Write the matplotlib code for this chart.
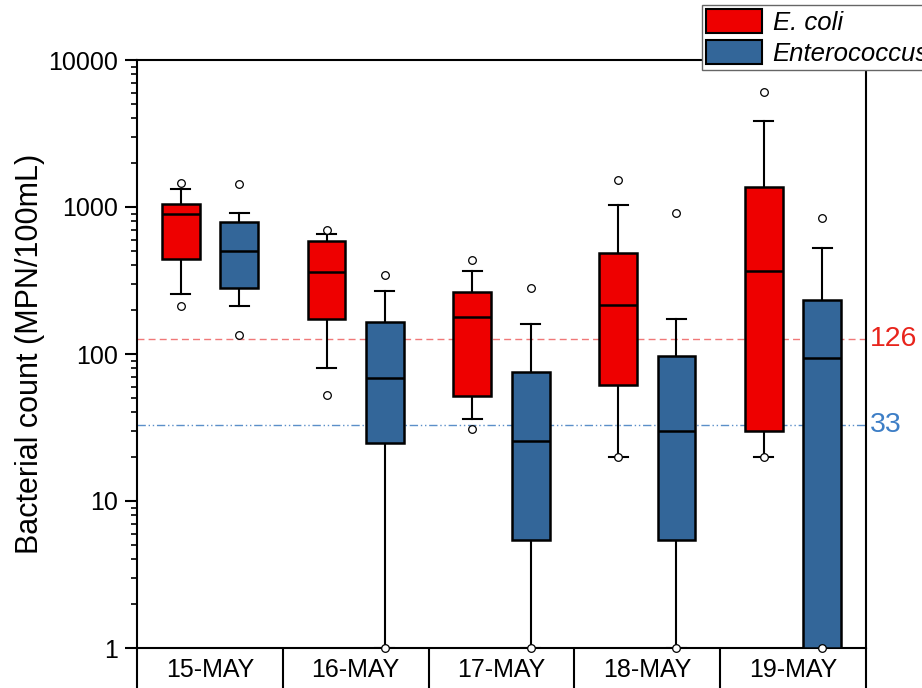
import numpy as np
import matplotlib
matplotlib.use('Agg')
import matplotlib.pyplot as plt
from matplotlib.patches import Patch
from matplotlib.ticker import FixedLocator, LogLocator, NullFormatter, FuncFormatter
import matplotlib.transforms as mtransforms

plt.rcParams['font.family'] = ['Liberation Sans', 'DejaVu Sans']

dates = ['15-MAY', '16-MAY', '17-MAY', '18-MAY', '19-MAY']

# E. coli box stats (MPN/100mL)
ecoli_lo = [256, 80, 36, 20, 20]
ecoli_q1 = [445, 174, 52, 62, 30]
ecoli_med = [900, 360, 179, 215, 369]
ecoli_q3 = [1054, 590, 263, 484, 1368]
ecoli_hi = [1334, 655, 369, 1032, 3830]
ecoli_fliers = [[211, 1449], [53, 698], [31, 438], [20, 1527], [20, 6090]]

# Enterococcus box stats
ent_lo = [211, 1, 1, 1, 1]
ent_q1 = [281, 25, 5.4, 5.4, 1]
ent_med = [502, 69, 25.6, 30, 94]
ent_q3 = [790, 165, 75.5, 97, 234]
ent_hi = [910, 270, 159, 172, 524]
ent_fliers = [[135, 1433], [1, 343], [1, 280], [1, 910], [1, 838]]

ecoli_limit = 126
ent_limit = 33

red = '#ee0000'
blue = '#336699'


def make_stats(lo, q1, med, q3, hi, fl):
    out = []
    for i in range(len(lo)):
        out.append(dict(whislo=lo[i], q1=q1[i], med=med[i], q3=q3[i],
                        whishi=hi[i], fliers=fl[i]))
    return out


fig = plt.figure(figsize=(9.22, 6.88), dpi=100)
ax = fig.add_axes([137/922, 1-648/688, (866-137)/922, (648-60)/688])

x = np.arange(len(dates))
off = 0.2
w = 0.26

ax.axhline(ecoli_limit, color='#f07878', lw=1, ls=(0, (5, 3)), zorder=1)
ax.axhline(ent_limit, color='#5b8fc9', lw=1, ls=(0, (6, 2, 1, 2, 1, 2)), zorder=1)

for stats, pos, col in [(make_stats(ecoli_lo, ecoli_q1, ecoli_med, ecoli_q3, ecoli_hi, ecoli_fliers), x - off, red),
                        (make_stats(ent_lo, ent_q1, ent_med, ent_q3, ent_hi, ent_fliers), x + off, blue)]:
    bp = ax.bxp(stats, positions=pos, widths=w, patch_artist=True, manage_ticks=False,
                boxprops=dict(facecolor=col, edgecolor='black', linewidth=1.8),
                medianprops=dict(color='black', linewidth=1.8),
                whiskerprops=dict(color='black', linewidth=1.5),
                capprops=dict(color='black', linewidth=1.5),
                flierprops=dict(marker='o', markersize=5.5, markerfacecolor='white',
                                markeredgecolor='black', markeredgewidth=0.9))
    for f in bp['fliers']:
        f.set_clip_on(False)
        f.set_zorder(5)
    for b in bp['boxes']:
        b.set_zorder(3)
    for m in bp['medians']:
        m.set_zorder(4)

ax.set_yscale('log')
ax.set_ylim(1, 10000)
ax.set_xlim(-0.5, len(dates) - 0.5)

ax.yaxis.set_major_locator(FixedLocator([1, 10, 100, 1000, 10000]))
ax.yaxis.set_major_formatter(FuncFormatter(lambda v, p: '%d' % v))
ax.yaxis.set_minor_locator(LogLocator(base=10, subs=np.arange(2, 10)))
ax.yaxis.set_minor_formatter(NullFormatter())
ax.tick_params(axis='y', which='major', direction='out', length=8.6, width=1.5,
               labelsize=18, pad=5)
ax.tick_params(axis='y', which='minor', direction='out', length=4.5, width=1.2)

ax.xaxis.set_major_locator(FixedLocator(np.arange(-0.5, len(dates), 1.0)))
ax.xaxis.set_major_formatter(NullFormatter())
ax.xaxis.set_minor_locator(FixedLocator(x))
ax.set_xticklabels(dates, minor=True)
ax.tick_params(axis='x', which='major', direction='out', length=32, width=1.5)
ax.tick_params(axis='x', which='minor', length=0, labelsize=18, pad=7)

for s in ax.spines.values():
    s.set_linewidth(1.5)

ax.set_ylabel('Bacterial count (MPN/100mL)', fontsize=22)
ax.yaxis.set_label_coords(-0.126, 0.5)

trans = mtransforms.blended_transform_factory(ax.transAxes, ax.transData)
ax.text(1.005, ecoli_limit, str(ecoli_limit), color='#e8241c', fontsize=20.5,
        va='center', ha='left', transform=trans)
ax.text(1.005, ent_limit, str(ent_limit), color='#3d7ec6', fontsize=20.5,
        va='center', ha='left', transform=trans)

handles = [Patch(facecolor=red, edgecolor='black', linewidth=1.5, label='E. coli'),
           Patch(facecolor=blue, edgecolor='black', linewidth=1.5, label='Enterococcus')]
leg = ax.legend(handles=handles, loc='upper left', bbox_to_anchor=(702/922, 1 - 5/688),
                bbox_transform=fig.transFigure, prop={'style': 'italic', 'size': 18.5},
                handlelength=2.2, handleheight=1.05, handletextpad=0.4,
                labelspacing=0.22, borderpad=0.15, borderaxespad=0,
                fancybox=False, framealpha=1, edgecolor='#666666')
leg.get_frame().set_linewidth(1.0)
leg.set_zorder(10)

fig.savefig('out.png', dpi=100)
